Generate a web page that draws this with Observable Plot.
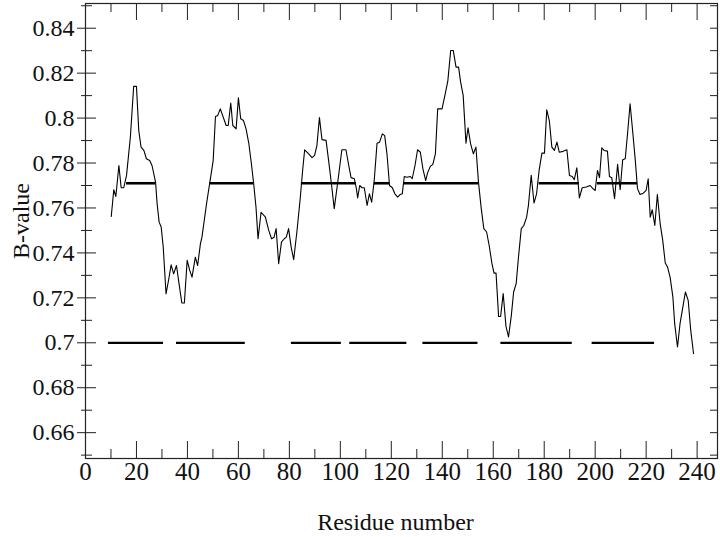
<!DOCTYPE html>
<html><head><meta charset="utf-8">
<script src="https://cdn.jsdelivr.net/npm/d3@7"></script>
<script src="https://cdn.jsdelivr.net/npm/@observablehq/plot@0.6"></script>
<style>body{margin:0;background:#fff} svg{display:block}</style>
</head><body><div id="chart"></div>
<script>
const residue = [10.1,11.1,11.9,13.1,14.0,15.0,16.1,17.6,18.9,20.0,20.9,21.8,22.9,23.9,25.2,26.1,27.5,28.1,28.9,29.7,30.5,31.6,32.7,33.6,34.6,35.7,36.7,37.8,38.8,39.9,40.9,41.8,43.1,44.0,45.1,45.7,47.5,48.8,50.1,51.0,51.9,52.9,
55.2,56.0,57.0,57.8,59.1,60.0,60.9,62.0,63.0,64.1,65.1,66.0,66.9,67.7,68.9,70.6,71.9,73.0,74.0,74.8,75.8,76.9,78.0,78.8,79.7,80.7,81.7,83.0,84.3,85.2,86.0,87.3,88.9,89.9,90.8,91.8,92.8,94.4,95.4,96.5,97.6,
98.9,100.6,102.2,103.3,104.2,105.5,106.3,106.8,107.6,108.5,109.4,110.5,111.4,112.3,113.3,114.4,115.4,116.5,117.4,118.3,119.3,120.4,121.4,122.5,123.5,124.3,125.1,126.1,127.5,128.2,129.3,130.3,131.4,132.4,133.5,134.2,135.3,136.3,137.3,138.2,139.9,141.2,
142.2,143.3,144.3,145.4,146.4,147.2,148.2,149.3,150.1,151.1,152.2,153.2,154.2,155.3,156.3,157.4,158.4,159.5,160.3,161.1,162.1,162.9,163.9,165.0,166.0,167.1,168.0,169.0,169.9,171.0,172.0,173.1,173.8,174.9,176.0,177.0,178.0,179.1,180.1,181.0,182.0,183.0,184.0,185.0,185.9,187.4,188.9,
189.9,191.0,191.8,192.8,193.8,194.9,196.5,198.0,199.1,200.0,200.9,201.7,202.6,203.5,204.8,205.6,206.5,207.6,208.8,209.8,210.8,211.8,212.7,213.7,214.8,215.8,216.6,217.6,218.9,220.0,220.8,221.6,222.4,223.4,224.4,225.5,226.5,227.5,228.4,229.4,230.5,231.2,232.3,233.3,234.4,235.4,236.5,237.5,238.6];
const bvalue = [0.7562,0.7681,0.7651,0.7789,0.7690,0.7690,0.7745,0.7915,0.8141,0.8141,0.7945,0.7871,0.7856,0.7819,0.7811,0.7789,0.7715,0.7619,0.7537,0.7515,0.7426,0.7218,0.7285,0.7347,0.7307,0.7344,0.7263,0.7177,0.7177,0.7367,0.7322,0.7292,0.7381,0.7344,0.7441,0.7470,0.7619,0.7715,0.7811,0.8007,0.8012,0.8041,
0.7967,0.7967,0.8067,0.7967,0.7952,0.8090,0.7997,0.7989,0.7952,0.7886,0.7797,0.7708,0.7604,0.7463,0.7581,0.7559,0.7500,0.7463,0.7470,0.7508,0.7352,0.7448,0.7463,0.7470,0.7508,0.7426,0.7370,0.7500,0.7648,0.7767,0.7859,0.7844,0.7824,0.7834,0.7878,0.8002,0.7904,0.7901,0.7811,0.7708,0.7597,
0.7708,0.7859,0.7859,0.7789,0.7735,0.7730,0.7686,0.7645,0.7700,0.7690,0.7690,0.7611,0.7663,0.7626,0.7722,0.7888,0.7893,0.7930,0.7922,0.7841,0.7700,0.7690,0.7663,0.7648,0.7660,0.7663,0.7740,0.7737,0.7740,0.7730,0.7789,0.7859,0.7848,0.7774,0.7722,0.7755,0.7785,0.7794,0.7841,0.8041,0.8041,0.8110,
0.8167,0.8301,0.8301,0.8227,0.8227,0.8160,0.8101,0.7888,0.7957,0.7886,0.7841,0.7871,0.7715,0.7597,0.7508,0.7493,0.7433,0.7352,0.7310,0.7310,0.7117,0.7117,0.7219,0.7073,0.7026,0.7122,0.7226,0.7263,0.7381,0.7508,0.7522,0.7559,0.7611,0.7745,0.7622,0.7663,0.7767,0.7844,0.7844,0.8037,0.7989,0.7871,0.7856,0.7893,0.7848,0.7852,0.7859,
0.7745,0.7740,0.7726,0.7779,0.7645,0.7690,0.7693,0.7700,0.7686,0.7678,0.7767,0.7735,0.7868,0.7856,0.7853,0.7740,0.7735,0.7641,0.7794,0.7681,0.7815,0.7819,0.7930,0.8064,0.7930,0.7804,0.7686,0.7660,0.7666,0.7678,0.7730,0.7559,0.7592,0.7522,0.7660,0.7530,0.7456,0.7355,0.7337,0.7292,0.7203,0.7085,0.6981,0.7085,0.7159,0.7226,0.7189,0.7055,0.6951];

const upperLevel = 0.771;
const upperStart = [16.1, 48.8, 84.7, 113.3, 125.1, 178.0, 200.9];
const upperEnd   = [27.5, 66.0, 106.3, 119.3, 154.2, 193.8, 216.6];
const lowerLevel = 0.70;
const lowerStart = [9.0, 35.7, 80.8, 103.7, 132.4, 163.0, 198.8];
const lowerEnd   = [30.6, 62.7, 100.4, 126.1, 154.0, 191.0, 223.3];

const xTicks = [0,20,40,60,80,100,120,140,160,180,200,220,240];
const xMinor = [10,30,50,70,90,110,130,150,170,190,210,230];
const yTicks = [0.66,0.68,0.70,0.72,0.74,0.76,0.78,0.80,0.82,0.84];
const yMinor = [0.65,0.67,0.69,0.71,0.73,0.75,0.77,0.79,0.81,0.83,0.85];
const xLabel = "Residue number";
const yLabel = "B-value";

const W = 720, H = 537, mL = 85, mR = 3, mT = 3, mB = 79;
const pw = W - mL - mR, ph = H - mT - mB;

const series = residue.map((r, i) => ({r, v: bvalue[i]}));
const upper = upperStart.map((s, i) => ({x1: s, x2: upperEnd[i], y: upperLevel}));
const lower = lowerStart.map((s, i) => ({x1: s, x2: lowerEnd[i], y: lowerLevel}));
const fmt = d => String(+d.toFixed(2));

const chart = Plot.plot({
  width: W, height: H,
  marginLeft: mL, marginRight: mR, marginTop: mT, marginBottom: mB,
  style: {fontFamily: "'Liberation Serif', 'Times New Roman', serif", fontSize: "24px", color: "#111", background: "#fff"},
  x: {domain: [0, 248]},
  y: {domain: [0.6485, 0.851]},
  marks: [
    Plot.frame({stroke: "#222", strokeWidth: 1.2}),
    Plot.tickY(yTicks, {y: d => d, insetLeft: -8, insetRight: pw - 11, stroke: "#222"}),
    Plot.tickY(yMinor, {y: d => d, insetLeft: -4, insetRight: pw - 7, stroke: "#222"}),
    Plot.tickY(yTicks, {y: d => d, insetLeft: pw - 7, stroke: "#222"}),
    Plot.tickY(yMinor, {y: d => d, insetLeft: pw - 7, stroke: "#222"}),
    Plot.tickX(xTicks, {x: d => d, insetTop: ph - 17, stroke: "#222"}),
    Plot.tickX(xMinor, {x: d => d, insetTop: ph - 9, stroke: "#222"}),
    Plot.tickX(xTicks, {x: d => d, insetBottom: ph - 17, stroke: "#222"}),
    Plot.tickX(xMinor, {x: d => d, insetBottom: ph - 9, stroke: "#222"}),
    Plot.axisX(xTicks, {tickSize: 0, tickPadding: 4, tickFormat: d => String(d), label: null, fontSize: 25}),
    Plot.axisY(yTicks, {tickSize: 0, tickPadding: 11, tickFormat: fmt, label: null, fontSize: 24}),
    Plot.text([yLabel], {frameAnchor: "left", textAnchor: "middle", lineAnchor: "middle", rotate: -90, dx: -64, dy: -10, fontSize: 24, fill: "#111"}),
    Plot.text([xLabel], {frameAnchor: "bottom", textAnchor: "middle", lineAnchor: "middle", dx: -6, dy: 64, fontSize: 24, fill: "#111"}),
    Plot.ruleY(upper, {x1: "x1", x2: "x2", y: "y", stroke: "#000", strokeWidth: 2.6}),
    Plot.ruleY(lower, {x1: "x1", x2: "x2", y: "y", stroke: "#000", strokeWidth: 2.2}),
    Plot.line(series, {x: "r", y: "v", stroke: "#000", strokeWidth: 1.1})
  ]
});
document.getElementById("chart").append(chart);
</script>
</body></html>
